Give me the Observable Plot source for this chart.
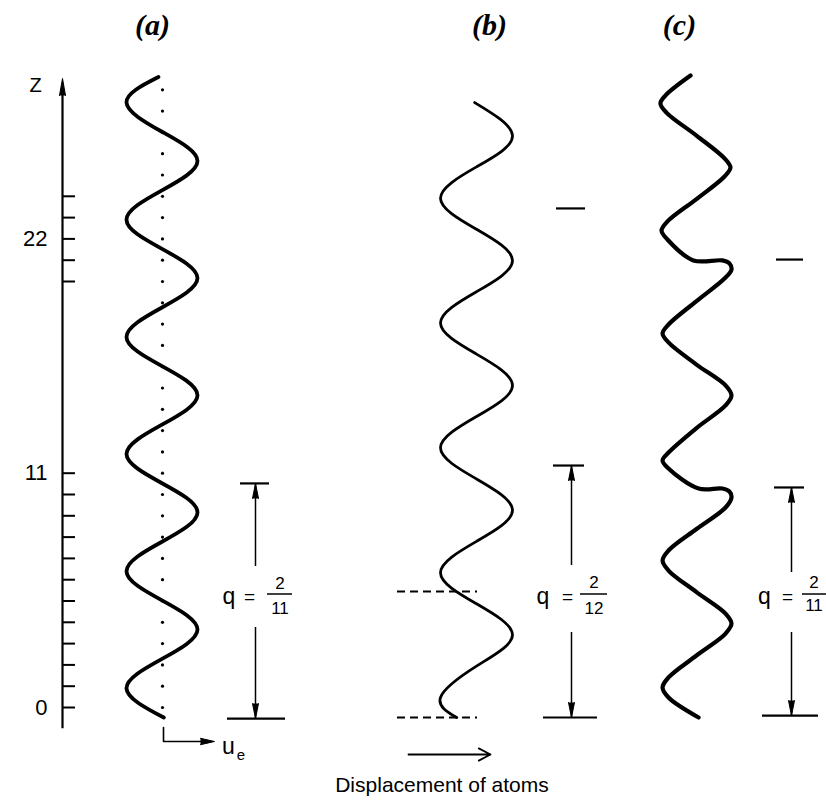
<!DOCTYPE html>
<html>
<head>
<meta charset="utf-8">
<script src="https://cdn.jsdelivr.net/npm/d3@7"></script>
<script src="https://cdn.jsdelivr.net/npm/@observablehq/plot@0.6"></script>
<style>
  html, body { margin: 0; padding: 0; background: #fff; }
  #chart svg { display: block; }
</style>
</head>
<body>
<div id="chart"></div>
<script>
// ---------------- data ----------------
// atom positions along Z (dotted line in panel a)
const atomZ = [0,1,2,3,4,5,6,7,8,9,10,11,12,13,14,15,16,17,18,19,20,21,22,23,24,25,26,27,28,29];
// Z-axis ticks and labels
const tickZ = [0,1,2,3,4,5,6,7,8,9,10,11,20,21,22,23,24];
const tickLabelZ = [0, 11, 22];
const tickLabelText = ["0", "11", "22"];

// (a) displacement wave, q = 2/11 (z in atom spacings, u in amplitude units)
const aZ = [-0.47, 0.9, 2.28, 3.66, 5.03, 6.4, 7.78, 9.16, 10.53, 11.9, 13.28, 14.66, 16.03, 17.4, 18.78, 20.16, 21.53, 22.9, 24.28, 25.66, 27.03, 28.4, 29.6];
const aU = [0.05, -1, 0, 1, 0, -1, 0, 1, 0, -1, 0, 1, 0, -1, 0, 1, 0, -1, 0, 1, 0, -1, -0.1];

// (b) commensurate wave, q = 2/12
const bZ = [-0.47, 0.47, 1.94, 3.40, 4.87, 6.33, 7.80, 9.26, 10.73, 12.19, 13.66, 15.12, 16.59, 18.05, 19.52, 20.98, 22.45, 23.91, 25.38, 26.84, 28.4];
const bU = [-0.55, -1, 0, 1, 0, -1, 0, 1, 0, -1, 0, 1, 0, -1, 0, 1, 0, -1, 0, 1, -0.05];

// (c) discommensurate wave with phase slips, average q = 2/11
const cZ = [-0.47, 0.47, 0.94, 1.41, 2.44, 3.47, 3.94, 4.41, 5.42, 6.43, 6.90, 7.37, 8.38, 9.39, 9.86, 10.14, 10.28, 10.28, 11.22, 11.60, 11.97, 13.12, 14.18, 14.65, 15.12, 16.10, 17.14, 17.56, 17.98, 19.08, 20.14, 20.56, 20.85, 20.99, 20.99, 21.97, 22.39, 22.82, 23.87, 24.93, 25.35, 25.78, 26.85, 27.93, 28.36, 28.73, 29.67];
const cU = [0.06, -0.8, -0.97, -0.8, 0, 0.83, 1.0, 0.83, 0, -0.8, -0.97, -0.8, 0, 0.83, 1.0, 0.94, 0.74, 0.06, -0.8, -0.97, -0.8, 0, 0.83, 1.0, 0.83, 0, -0.8, -0.97, -0.8, 0, 0.8, 1.0, 0.94, 0.74, -0.09, -0.83, -1.0, -0.83, 0, 0.8, 0.97, 0.8, 0, -0.86, -1.03, -0.89, -0.17];

// wavelength markers
const panels = ["a", "b", "c"];
const panelLabels = ["(a)", "(b)", "(c)"];
const qNum = ["2", "2", "2"];
const qDen = ["11", "12", "11"];
const dimTopZ = [10.52, 11.36, 10.33];
const dimBotZ = [-0.52, -0.47, -0.38];
const dashZ = [-0.47, 5.45];        // dashed guides in (b)
const markZ = [23.43, 21.03];       // short marks in (b), (c)

// ---------------- layout (pixels) ----------------
const W = 826, H = 805;
const center = {a: 161.5, b: 476, c: 696};
const amp = {a: 35.5, b: 36, c: 35};
const axisX = 62;
const pz = py => (707 - py) / 21.3;   // pixel row -> Z units (for annotations)

const dimLayout = [
  {x: 255, gapHi: pz(566), gapLo: pz(627), tb: [240, 269], bb: [227, 285], qx: 228.5, ex: 249, fx: 279.5, bar: [267, 292], numY: pz(583), denY: pz(608), qy: pz(596)},
  {x: 571, gapHi: pz(565), gapLo: pz(632), tb: [553, 584], bb: [543, 597], qx: 542.5, ex: 567, fx: 593.5, bar: [580, 607], numY: pz(582.5), denY: pz(608.5), qy: pz(596)},
  {x: 791, gapHi: pz(572), gapLo: pz(632), tb: [774, 804], bb: [762, 818], qx: 764, ex: 787, fx: 813.5, bar: [802, 826], numY: pz(582.5), denY: pz(605), qy: pz(596)}
];
const dims = dimLayout.map((d, i) => ({...d, top: dimTopZ[i], bot: dimBotZ[i], num: qNum[i], den: qDen[i]}));

const rows = (zs, us, p) => zs.map((z, i) => ({z, x: center[p] + amp[p] * us[i]}));
const waveA = rows(aZ, aU, "a");
const waveB = rows(bZ, bU, "b");
const waveC = rows(cZ, cU, "c");

const panelLabelRows = panelLabels.map((t, i) => ({t, x: [152, 489, 679][i], z: pz(25)}));
const tickLabelRows = tickLabelZ.map((z, i) => ({z, t: tickLabelText[i]}));
const markRows = [
  {z: markZ[0], x1: 556, x2: 585},
  {z: markZ[1], x1: 776, x2: 803}
];

const sans = "Liberation Sans, Arial, sans-serif";
const serif = "Liberation Serif, Times New Roman, serif";

const chart = Plot.plot({
  width: W,
  height: H,
  margin: 0,
  x: {type: "linear", domain: [0, W], range: [0, W], axis: null},
  y: {type: "linear", domain: [0, 11], range: [707, 472.7], axis: null},
  style: {background: "#fff", color: "#000"},
  marks: [
    // Z axis
    Plot.ruleX([axisX], {x: d => d, y1: -1, y2: pz(94), stroke: "#000", strokeWidth: 2.2}),
    Plot.vector([0], {x: () => axisX, y: () => pz(78), length: 17, rotate: 0, shape: "spike", r: 3, anchor: "end", fill: "#000", fillOpacity: 1, stroke: "#000", strokeWidth: 1}),
    Plot.ruleY(tickZ, {y: d => d, x1: axisX, x2: axisX + 13, stroke: "#000", strokeWidth: 2}),
    Plot.text(tickLabelRows, {x: () => 47, y: "z", text: "t", textAnchor: "end", fontSize: 22, fontFamily: sans, fill: "#000"}),
    Plot.text(["Z"], {x: () => 35, y: () => pz(85), text: d => d, fontSize: 20, fontFamily: sans, fill: "#000"}),

    // atom positions (dotted equilibrium line)
    Plot.dot(atomZ, {x: () => 162, y: d => d, r: 1.6, fill: "#000", stroke: "none"}),

    // waves
    Plot.line(waveA, {x: "x", y: "z", curve: "natural", stroke: "#000", strokeWidth: 3.8, strokeLinecap: "round"}),
    Plot.line(waveB, {x: "x", y: "z", curve: "natural", stroke: "#000", strokeWidth: 2.8, strokeLinecap: "round"}),
    Plot.line(waveC, {x: "x", y: "z", curve: "catmull-rom", stroke: "#000", strokeWidth: 4.2, strokeLinecap: "round", strokeLinejoin: "round"}),

    // u_e indicator
    Plot.line([{x: 163, z: pz(727)}, {x: 163, z: pz(741)}, {x: 203, z: pz(741)}], {x: "x", y: "z", stroke: "#000", strokeWidth: 1.6}),
    Plot.vector([0], {x: () => 200, y: () => pz(741), length: 14, rotate: 90, shape: "spike", r: 3.2, anchor: "start", fill: "#000", fillOpacity: 1, stroke: "#000", strokeWidth: 1}),
    Plot.text(["u"], {x: () => 228, y: () => pz(746), text: d => d, fontSize: 23, fontFamily: sans, fill: "#000"}),
    Plot.text(["e"], {x: () => 240.5, y: () => pz(755), text: d => d, fontSize: 15, fontFamily: sans, fill: "#000"}),

    // dashed guides in (b)
    Plot.ruleY(dashZ, {y: d => d, x1: 397, x2: 477, stroke: "#000", strokeWidth: 2, strokeDasharray: "8,5"}),

    // short wavelength marks
    Plot.ruleY(markRows, {y: "z", x1: "x1", x2: "x2", stroke: "#000", strokeWidth: 2.2}),

    // dimension lines
    Plot.ruleX(dims, {x: "x", y1: "top", y2: "gapHi", stroke: "#000", strokeWidth: 1.5}),
    Plot.ruleX(dims, {x: "x", y1: "gapLo", y2: "bot", stroke: "#000", strokeWidth: 1.5}),
    Plot.ruleY(dims, {y: "top", x1: d => d.tb[0], x2: d => d.tb[1], stroke: "#000", strokeWidth: 2.2}),
    Plot.ruleY(dims, {y: "bot", x1: d => d.bb[0], x2: d => d.bb[1], stroke: "#000", strokeWidth: 2.2}),
    Plot.vector(dims, {x: "x", y: "top", length: 15, rotate: 0, shape: "spike", r: 3, anchor: "end", fill: "#000", fillOpacity: 1, stroke: "#000", strokeWidth: 1}),
    Plot.vector(dims, {x: "x", y: "bot", length: 15, rotate: 180, shape: "spike", r: 3, anchor: "end", fill: "#000", fillOpacity: 1, stroke: "#000", strokeWidth: 1}),

    // q = num/den labels
    Plot.text(dims, {x: "qx", y: "qy", text: () => "q", fontSize: 23, fontFamily: sans, fill: "#000"}),
    Plot.text(dims, {x: "ex", y: "qy", text: () => "=", fontSize: 19, fontFamily: sans, fill: "#000"}),
    Plot.ruleY(dims, {y: () => pz(593.5), x1: d => d.bar[0], x2: d => d.bar[1], stroke: "#000", strokeWidth: 1.5}),
    Plot.text(dims, {x: "fx", y: "numY", text: "num", fontSize: 17, fontFamily: sans, fill: "#000"}),
    Plot.text(dims, {x: "fx", y: "denY", text: "den", fontSize: 17, fontFamily: sans, fill: "#000"}),

    // panel labels
    Plot.text(panelLabelRows, {x: "x", y: "z", text: "t", fontSize: 30, fontFamily: serif, fontStyle: "italic", fontWeight: "bold", fill: "#000"}),

    // displacement arrow + caption
    Plot.arrow([0], {x1: () => 408, x2: () => 490, y1: () => pz(754), y2: () => pz(754), headLength: 11, headAngle: 55, stroke: "#000", strokeWidth: 1.8}),
    Plot.text(["Displacement of atoms"], {x: () => 441.5, y: () => pz(785), text: d => d, fontSize: 21, fontFamily: sans, fill: "#000"})
  ]
});

document.getElementById("chart").appendChild(chart);
</script>
</body>
</html>
